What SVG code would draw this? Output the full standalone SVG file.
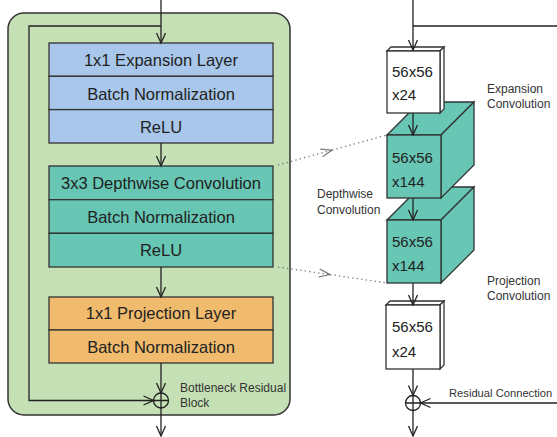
<svg xmlns="http://www.w3.org/2000/svg" width="557" height="437" viewBox="0 0 557 437">
<defs>
<marker id="arr" markerUnits="userSpaceOnUse" markerWidth="14" markerHeight="12" viewBox="-12 -6 14 12" refX="0" refY="0" orient="auto">
<path d="M-10,-4.5 L0,0 L-10,4.5" fill="none" stroke="#222" stroke-width="1.3"/>
</marker>
<marker id="arrg" markerUnits="userSpaceOnUse" markerWidth="14" markerHeight="12" viewBox="-12 -6 14 12" refX="0" refY="0" orient="auto">
<path d="M-11,-4 L0,0 L-11,4" fill="none" stroke="#777" stroke-width="1.2"/>
</marker>
</defs>
<style>
.box{stroke:#333;stroke-width:1.3}
.blue{fill:#a8c7ea}
.teal{fill:#67c6b4}
.orange{fill:#f0bb6c}
.white{fill:#fff}
.lbl{font-family:"Liberation Sans",Arial,sans-serif;font-size:16.5px;fill:#222;text-anchor:middle}
.dim{font-family:"Liberation Sans",Arial,sans-serif;font-size:15px;fill:#222}
.sm{font-family:"Liberation Sans",Arial,sans-serif;font-size:12px;fill:#333}
.ln{fill:none;stroke:#222;stroke-width:1.3}
.dot{fill:none;stroke:#777;stroke-width:1.3;stroke-dasharray:1.3 3.2}
</style>
<rect width="557" height="437" fill="#fff"/>
<g id="bottleneck-block">
<rect x="8" y="13" width="282" height="402" rx="16" fill="#c5e0b4" stroke="#333" stroke-width="1.5"/>
<text class="sm" x="180" y="391.5">Bottleneck Residual</text>
<text class="sm" x="180" y="407">Block</text>
</g>
<g id="expansion-layer">
<rect class="box blue" x="49" y="43" width="224" height="33.3"/>
<rect class="box blue" x="49" y="76.3" width="224" height="33.3"/>
<rect class="box blue" x="49" y="109.6" width="224" height="33.4"/>
<text class="lbl" x="161" y="66">1x1 Expansion Layer</text>
<text class="lbl" x="161" y="99.5">Batch Normalization</text>
<text class="lbl" x="161" y="132.7">ReLU</text>
</g>
<g id="depthwise-layer">
<rect class="box teal" x="49" y="166" width="224" height="33.7"/>
<rect class="box teal" x="49" y="199.7" width="224" height="33.6"/>
<rect class="box teal" x="49" y="233.3" width="224" height="33.7"/>
<text class="lbl" x="161" y="189.3">3x3 Depthwise Convolution</text>
<text class="lbl" x="161" y="222.5">Batch Normalization</text>
<text class="lbl" x="161" y="256">ReLU</text>
</g>
<g id="projection-layer">
<rect class="box orange" x="49" y="297" width="224" height="33"/>
<rect class="box orange" x="49" y="330" width="224" height="33"/>
<text class="lbl" x="161" y="319.3">1x1 Projection Layer</text>
<text class="lbl" x="161" y="352.7">Batch Normalization</text>
</g>
<g id="sum-left">
<circle cx="161" cy="400.5" r="7.5" fill="none" stroke="#222" stroke-width="1.3"/>
<path class="ln" d="M153.5,400.5 H168.5 M161,393 V408"/>
</g>
<g id="output-tensor">
<path class="box white" d="M386,305 L390,301 L444,301 L440,305 Z"/>
<path class="box white" d="M440,305 L444,301 L444,365 L440,369 Z"/>
<rect class="box white" x="386" y="305" width="54" height="64"/>
<text class="dim" x="392" y="332.3">56x56</text>
<text class="dim" x="392" y="356.7">x24</text>
</g>
<g id="depthwise-tensor">
<path class="box teal" d="M387,220 L420,187 L474,187 L441,220 Z"/>
<path class="box teal" d="M441,220 L474,187 L474,250 L441,283 Z"/>
<rect class="box teal" x="387" y="220" width="54" height="63"/>
<text class="dim" x="392" y="247">56x56</text>
<text class="dim" x="392" y="270.7">x144</text>
</g>
<g id="expansion-tensor">
<path class="box teal" d="M387,135 L420,102 L474,102 L441,135 Z"/>
<path class="box teal" d="M441,135 L474,102 L474,165 L441,198 Z"/>
<rect class="box teal" x="387" y="135" width="54" height="63"/>
<text class="dim" x="392" y="163">56x56</text>
<text class="dim" x="392" y="186.7">x144</text>
</g>
<g id="input-tensor">
<path class="box white" d="M387,51 L391,47 L444,47 L440,51 Z"/>
<path class="box white" d="M440,51 L444,47 L444,109 L440,113 Z"/>
<rect class="box white" x="387" y="51" width="53" height="62"/>
<text class="dim" x="392" y="77">56x56</text>
<text class="dim" x="392" y="100">x24</text>
</g>
<g id="sum-right">
<circle cx="413" cy="403" r="7.5" fill="none" stroke="#222" stroke-width="1.3"/>
<path class="ln" d="M405.5,403 H420.5 M413,395.5 V410.5"/>
</g>
<g id="labels">
<text class="sm" x="487" y="92.7">Expansion</text>
<text class="sm" x="487" y="108">Convolution</text>
<text class="sm" x="317" y="198.3">Depthwise</text>
<text class="sm" x="317" y="214">Convolution</text>
<text class="sm" x="487" y="285">Projection</text>
<text class="sm" x="487" y="300">Convolution</text>
<text class="sm" x="449" y="396.7" style="font-size:11.2px">Residual Connection</text>
</g>
<g id="connectors">
<path class="ln" d="M161,0 V43" marker-end="url(#arr)"/>
<path class="ln" d="M161,143 V166" marker-end="url(#arr)"/>
<path class="ln" d="M161,267 V297" marker-end="url(#arr)"/>
<path class="ln" d="M161,363 V393" marker-end="url(#arr)"/>
<path class="ln" d="M161,26 H29 V400.5 H153.5" marker-end="url(#arr)"/>
<path class="ln" d="M161,408 V436" marker-end="url(#arr)"/>
<path class="ln" d="M413,0 V50" marker-end="url(#arr)"/>
<path class="ln" d="M413,26 H557"/>
<path class="ln" d="M413,113 V135" marker-end="url(#arr)"/>
<path class="ln" d="M413,198 V220" marker-end="url(#arr)"/>
<path class="ln" d="M413,283 V305" marker-end="url(#arr)"/>
<path class="ln" d="M413,369 V395.5" marker-end="url(#arr)"/>
<path class="ln" d="M557,403 H420.5" marker-end="url(#arr)"/>
<path class="ln" d="M413,410.5 V436" marker-end="url(#arr)"/>
<path class="dot" d="M278,165 L332,150.1" marker-end="url(#arrg)"/>
<path class="dot" d="M332,150.1 L387,135"/>
<path class="dot" d="M278,267 L330,274.6" marker-end="url(#arrg)"/>
<path class="dot" d="M330,274.6 L387,283"/>
</g>
</svg>
